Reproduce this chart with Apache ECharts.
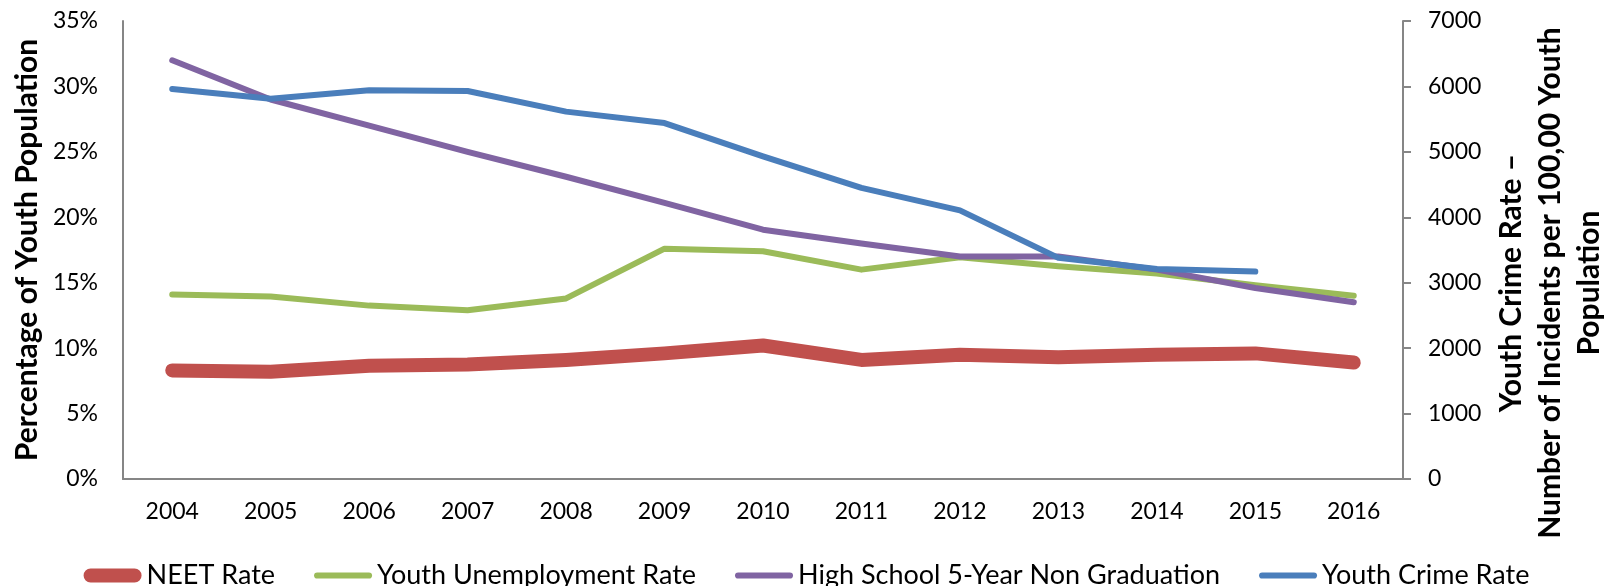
<!DOCTYPE html>
<html>
<head>
<meta charset="utf-8">
<script src="https://cdn.jsdelivr.net/npm/echarts@6/dist/echarts.min.js"></script>
<style>
html,body{margin:0;padding:0;background:#fff;}
#chart{width:1613px;height:586px;}
</style>
</head>
<body>
<div id="chart"></div>
<script>
const years = ['2004','2005','2006','2007','2008','2009','2010','2011','2012','2013','2014','2015','2016'];
const neetRate = [8.3, 8.2, 8.65, 8.75, 9.1, 9.6, 10.2, 9.1, 9.5, 9.3, 9.5, 9.6, 8.9];
const youthUnemployment = [14.1, 13.95, 13.25, 12.9, 13.8, 17.6, 17.4, 16.0, 16.95, 16.25, 15.7, 14.8, 14.0];
const nonGraduation = [32.0, 29.0, 27.0, 25.0, 23.1, 21.1, 19.05, 18.0, 17.0, 17.0, 16.0, 14.6, 13.5];
const youthCrime = [5960, 5810, 5940, 5930, 5615, 5440, 4930, 4450, 4105, 3380, 3210, 3170, null];
const leftTicks = ['0%','5%','10%','15%','20%','25%','30%','35%'];
const rightTicks = ['0','1000','2000','3000','4000','5000','6000','7000'];

const FONT = 'Lato';
const chart = echarts.init(document.getElementById('chart'));
const axisGrey = '#868686';
const thinIcon = 'path://M3,4 L53,4 A3,3 0 0 1 53,10 L3,10 A3,3 0 0 1 3,4 Z';

chart.setOption({
  animation: false,
  backgroundColor: '#ffffff',
  textStyle: { fontFamily: FONT, color: '#000' },
  grid: { left: 123, right: 210, top: 21, bottom: 107, containLabel: false },
  legend: {
    top: 557,
    left: 'center',
    itemWidth: 58,
    itemHeight: 14,
    itemGap: 39,
    textStyle: { fontFamily: FONT, fontSize: 27, color: '#000' },
    data: [
      { name: 'NEET Rate', icon: 'path://M7,0 L51,0 A7,7 0 0 1 51,14 L7,14 A7,7 0 0 1 7,0 Z', itemStyle: { color: '#C0504D' } },
      { name: 'Youth Unemployment Rate', icon: thinIcon, itemStyle: { color: '#9BBB59' } },
      { name: 'High School 5-Year Non Graduation', icon: thinIcon, itemStyle: { color: '#8064A2' } },
      { name: 'Youth Crime Rate', icon: thinIcon, itemStyle: { color: '#4A7EBB' } }
    ]
  },
  xAxis: {
    type: 'category',
    data: years,
    boundaryGap: true,
    axisLine: { lineStyle: { color: axisGrey, width: 2 } },
    axisTick: { show: false },
    axisLabel: { fontFamily: FONT, fontSize: 23, color: '#000', margin: 21 },
    splitLine: { show: false }
  },
  yAxis: [
    {
      type: 'value',
      min: 0, max: 35, interval: 5,
      position: 'left',
      name: 'Percentage of Youth Population',
      nameLocation: 'middle',
      nameRotate: 90,
      nameGap: 80,
      nameTextStyle: { fontFamily: FONT, fontSize: 30, fontWeight: 'bold', color: '#000' },
      axisLine: { show: true, lineStyle: { color: axisGrey, width: 2 } },
      axisTick: { show: false },
      axisLabel: { fontFamily: FONT, fontSize: 23, color: '#000', margin: 25,
        formatter: function (v) { return leftTicks[Math.round(v / 5)]; } },
      splitLine: { show: false }
    },
    {
      type: 'value',
      min: 0, max: 7000, interval: 1000,
      position: 'right',
      axisLine: { show: true, lineStyle: { color: axisGrey, width: 2 } },
      axisTick: { show: true, inside: false, length: 8, lineStyle: { color: axisGrey, width: 2 } },
      axisLabel: { fontFamily: FONT, fontSize: 23, color: '#000', margin: 25,
        formatter: function (v) { return rightTicks[Math.round(v / 1000)]; } },
      splitLine: { show: false }
    }
  ],
  graphic: [
    {
      type: 'text',
      x: 1550, y: 283,
      rotation: Math.PI / 2,
      style: {
        text: 'Youth Crime Rate –\nNumber of Incidents per 100,00 Youth\nPopulation',
        fontFamily: FONT, fontSize: 30, fontWeight: 'bold', fill: '#000',
        align: 'center', verticalAlign: 'middle', lineHeight: 39
      }
    }
  ],
  series: [
    {
      name: 'NEET Rate', type: 'line', yAxisIndex: 0, data: neetRate,
      symbol: 'none', color: '#C0504D',
      lineStyle: { width: 14, color: '#C0504D', cap: 'round', join: 'round' }
    },
    {
      name: 'Youth Unemployment Rate', type: 'line', yAxisIndex: 0, data: youthUnemployment,
      symbol: 'none', color: '#9BBB59',
      lineStyle: { width: 6, color: '#9BBB59', cap: 'round', join: 'round' }
    },
    {
      name: 'High School 5-Year Non Graduation', type: 'line', yAxisIndex: 0, data: nonGraduation,
      symbol: 'none', color: '#8064A2',
      lineStyle: { width: 6, color: '#8064A2', cap: 'round', join: 'round' }
    },
    {
      name: 'Youth Crime Rate', type: 'line', yAxisIndex: 1, data: youthCrime,
      symbol: 'none', color: '#4A7EBB', connectNulls: false,
      lineStyle: { width: 6, color: '#4A7EBB', cap: 'round', join: 'round' }
    }
  ]
});
</script>
</body>
</html>
